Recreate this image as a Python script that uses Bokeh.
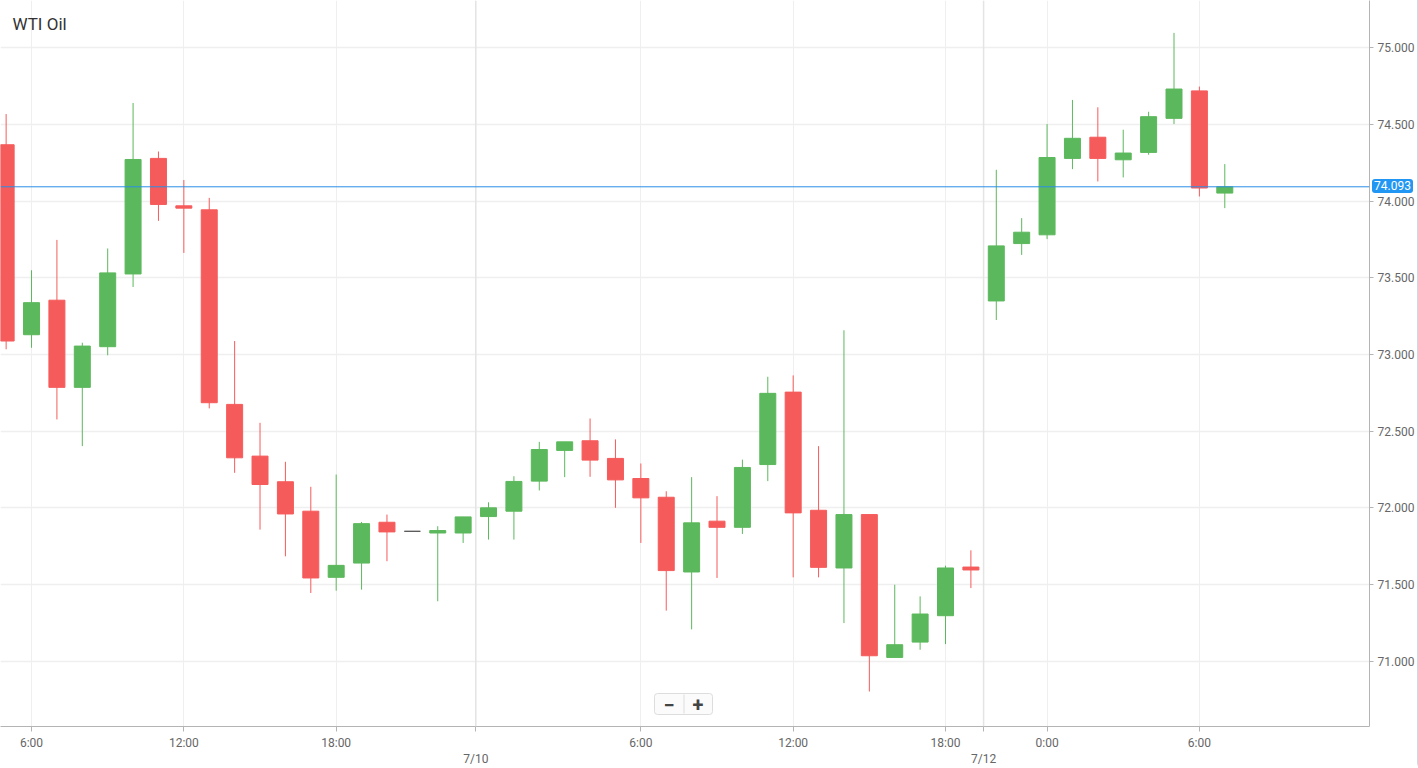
from bokeh.plotting import figure
from bokeh.layouts import column
from bokeh.models import (ColumnDataSource, FixedTicker, NumeralTickFormatter, Span,
                          Label, BoxAnnotation, Div)
from bokeh.embed import file_html
from bokeh.resources import INLINE

# Hourly WTI crude candles
opens = [74.367, 73.129, 73.354, 72.786, 73.051, 73.525, 74.278, 73.969, 73.943, 72.675,
         72.338, 72.171, 71.979, 71.548, 71.641, 71.907, 71.848, 71.837, 71.837, 71.944,
         71.979, 72.175, 72.375, 72.438, 72.323, 72.192, 72.070, 71.583, 71.914, 71.874,
         72.283, 72.755, 71.985, 71.609, 71.957, 71.026, 71.126, 71.298, 71.615, 73.349,
         73.723, 73.780, 74.278, 74.416, 74.269, 74.317, 74.539, 74.718, 74.052]
highs = [74.567, 73.549, 73.747, 73.077, 73.691, 74.639, 74.323, 74.137, 74.021, 73.088,
         72.555, 72.301, 72.138, 72.218, 71.909, 71.957, 71.848, 71.881, 71.942, 72.037,
         72.207, 72.431, 72.431, 72.583, 72.447, 72.290, 72.109, 72.201, 72.077, 72.315,
         72.855, 72.864, 72.403, 73.158, 71.957, 71.500, 71.424, 71.624, 71.724, 74.204,
         73.889, 74.502, 74.659, 74.611, 74.465, 74.582, 75.096, 74.746, 74.241]
lows = [73.034, 73.044, 72.577, 72.403, 72.995, 73.440, 73.871, 73.662, 72.649, 72.229,
        71.859, 71.685, 71.446, 71.461, 71.468, 71.653, 71.848, 71.392, 71.772, 71.794,
        71.794, 72.114, 72.201, 72.203, 72.001, 71.772, 71.331, 71.209, 71.544, 71.831,
        72.175, 71.548, 71.548, 71.250, 70.804, 71.026, 71.076, 71.113, 71.478, 73.225,
        73.649, 73.752, 74.208, 74.128, 74.154, 74.302, 74.502, 74.030, 73.954]
closes = [73.088, 73.338, 72.786, 73.055, 73.532, 74.271, 73.978, 73.954, 72.686, 72.327,
          72.153, 71.961, 71.544, 71.626, 71.898, 71.844, 71.848, 71.853, 71.942, 72.001,
          72.173, 72.381, 72.431, 72.312, 72.183, 72.066, 71.592, 71.903, 71.874, 72.264,
          72.747, 71.968, 71.613, 71.957, 71.037, 71.109, 71.309, 71.609, 71.596, 73.708,
          73.797, 74.284, 74.409, 74.278, 74.313, 74.550, 74.730, 74.085, 74.093]

# Hour of day for each candle; a new session starts at the listed candle
hours = list(range(5, 24)) + list(range(0, 20)) + [22, 23] + list(range(0, 8))
session_labels = ["7/10", "7/12"]
session_starts = [19, 39]

last_price = 74.093
price_ticks = [71.0, 71.5, 72.0, 72.5, 73.0, 73.5, 74.0, 74.5, 75.0]

UP, DOWN, FLAT = "#5cb85c", "#f65b5b", "#555555"
colors = [UP if c > o else DOWN if c < o else FLAT for o, c in zip(opens, closes)]
idx = list(range(len(opens)))

src = ColumnDataSource(dict(
    x=idx, high=highs, low=lows,
    top=[max(o, c) for o, c in zip(opens, closes)],
    bottom=[min(o, c) for o, c in zip(opens, closes)],
    color=colors,
))

FRAME_W, FRAME_H = 1368, 725
Y0, Y1 = 70.576, 75.307

p = figure(frame_width=FRAME_W, frame_height=FRAME_H,
           x_range=(-0.222, 53.70), y_range=(Y0, Y1),
           output_backend="svg", toolbar_location=None,
           y_axis_location="right",
           min_border_left=0, min_border_top=0,
           min_border_right=49, min_border_bottom=42)
p.outline_line_color = None
p.background_fill_color = "white"
p.border_fill_color = "white"
p.styles = {"border-right": "1px solid #cdd8e4", "border-bottom": "1px solid #cdd8e4",
            "border-bottom-right-radius": "6px"}

# x ticks: every 6 hours plus a date marker at each session break
hour_ticks = [i for i, h in enumerate(hours) if h % 6 == 0 and i not in session_starts]
break_ticks = [s - 0.5 for s in session_starts]
overrides = {i: f"{hours[i]}:00" for i in hour_ticks}
for b, lab in zip(break_ticks, session_labels):
    overrides[b] = "\n" + lab
xticker = FixedTicker(ticks=sorted(hour_ticks + break_ticks))

xa = p.xaxis[0]
xa.ticker = xticker
xa.major_label_overrides = overrides
ya = p.yaxis[0]
ya.ticker = FixedTicker(ticks=price_ticks)
ya.formatter = NumeralTickFormatter(format="0.000")
for ax in (xa, ya):
    ax.axis_line_color = "#b4b4b4"
    ax.major_tick_line_color = "#b4b4b4"
    ax.major_tick_in = 0
    ax.minor_tick_line_color = None
    ax.major_label_text_color = "#666666"
    ax.major_label_text_font = "Roboto"
    ax.major_label_text_font_size = "12px"
xa.major_tick_out = 5
xa.major_label_standoff = 4
ya.major_tick_out = 4
ya.major_label_standoff = 4

p.xgrid.ticker = xticker
p.xgrid.grid_line_color = "#efefef"
p.ygrid.ticker = FixedTicker(ticks=price_ticks)
p.ygrid.grid_line_color = "#efefef"
p.ygrid.grid_line_width = 1.5

for b in break_ticks:
    p.add_layout(Span(location=b, dimension="height", line_color="#e4e4e4", line_width=1.5))

# candles
p.segment(x0="x", y0="low", x1="x", y1="high", color="color", line_width=1, source=src)
p.vbar(x="x", width=0.63, top="top", bottom="bottom", fill_color="color",
       line_color="color", line_width=1, source=src)

# last price line
p.add_layout(Span(location=last_price, dimension="width", line_color="#2a8fe6", line_width=1))

# title
p.add_layout(Label(x=12, y=703, x_units="screen", y_units="screen", text="WTI Oil",
                   text_font="Roboto", text_font_size="17px", text_color="#333333",
                   text_baseline="middle"))

# zoom buttons
p.add_layout(BoxAnnotation(left=654, right=712, bottom=12, top=33,
                           left_units="screen", right_units="screen",
                           bottom_units="screen", top_units="screen",
                           fill_color="#fbfbfb", fill_alpha=1, line_color="#dddddd",
                           line_alpha=1, border_radius=3))
p.add_layout(BoxAnnotation(left=683, right=684, bottom=13, top=32,
                           left_units="screen", right_units="screen",
                           bottom_units="screen", top_units="screen",
                           fill_color="#dddddd", fill_alpha=1, line_color=None))
for cx, sym in ((668.5, "\u2212"), (697.5, "+")):
    p.add_layout(Label(x=cx, y=22.5, x_units="screen", y_units="screen", text=sym,
                       text_font="Roboto", text_font_size="20px", text_font_style="bold",
                       text_color="#444444", text_align="center", text_baseline="middle"))

# last price tag sitting on the price axis (outside the plot frame)
tag_center = (Y1 - last_price) / (Y1 - Y0) * FRAME_H
tag = Div(text=f"{last_price:.3f}", margin=0, styles={
    "position": "absolute", "left": "1372px", "top": f"{tag_center - 7:.0f}px",
    "background": "#2196f3", "color": "white", "font-family": "Roboto",
    "font-size": "12px", "line-height": "14px", "padding": "0 2px",
    "border-radius": "3px", "z-index": "10",
})

layout = column(p, tag, spacing=0)
open("out.html", "w").write(file_html(layout, INLINE))
